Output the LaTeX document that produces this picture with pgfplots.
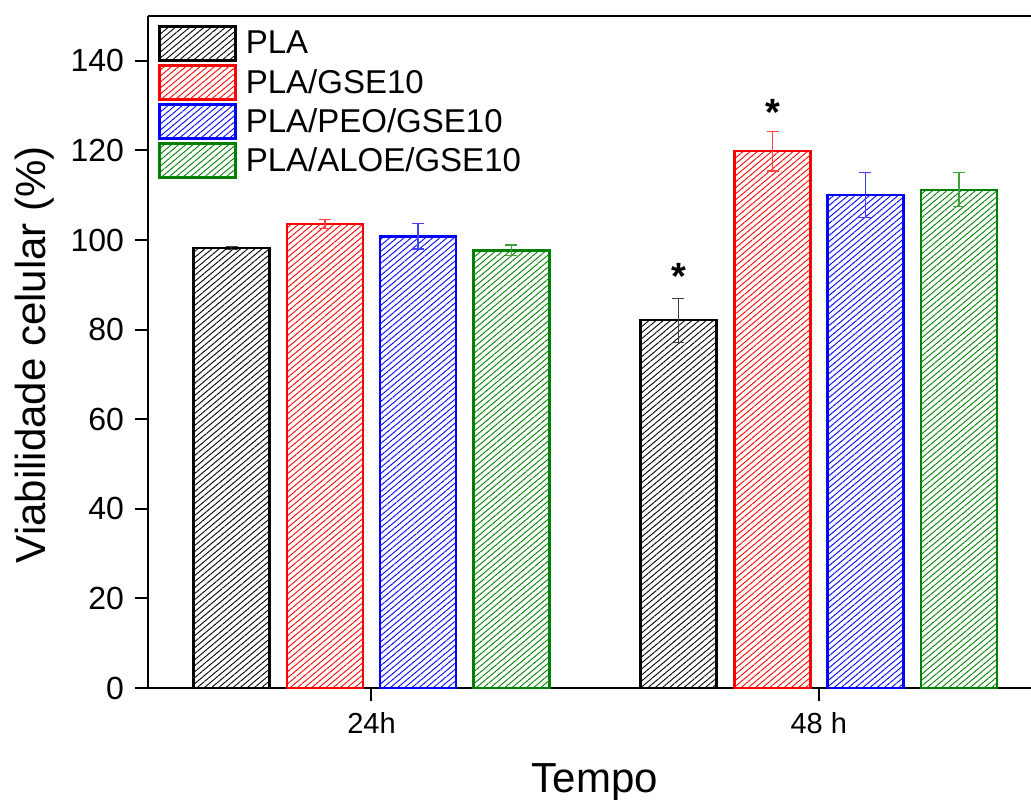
\documentclass[border=0pt]{standalone}
\usepackage{fontspec}
\setmainfont{Liberation Sans}
\usepackage{pgfplots}
\usepackage{pgfplotstable}
\pgfplotsset{compat=1.18}
\usetikzlibrary{patterns.meta}

\definecolor{cgreen}{RGB}{0,128,0}

% Cell viability (%), mean and standard deviation, at 24 h (x = 0) and 48 h (x = 1)
\pgfplotstableread{
x       y      e
-0.3130 98.2   0.4
 0.6864 82.1   4.9
}\pla
\pgfplotstableread{
x       y      e
-0.1040 103.6  1.0
 0.8966 119.8  4.4
}\gse
\pgfplotstableread{
x       y      e
 0.1040 100.8  2.8
 1.1045 110.0  5.0
}\peo
\pgfplotstableread{
x       y      e
 0.3130 97.7   1.2
 1.3136 111.2  3.8
}\aloe

\pgfplotsset{
  hbar/.style={
    ybar, bar shift=0pt, bar width=38pt,
    draw=#1, line width=1.2pt,
    pattern={Lines[angle=40,distance=2.3pt,line width=0.45pt]},
    pattern color=#1,
    error bars/.cd, y dir=both, y explicit,
      error bar style={line width=0.6pt, #1!75},
      error mark options={rotate=90, mark size=3pt, line width=0.6pt, #1!75},
    /pgfplots/.cd,
    legend image code/.code={%
      \draw[draw=#1, line width=1.2pt,
            pattern={Lines[angle=40,distance=2.3pt,line width=0.45pt]},
            pattern color=#1]
        (0pt,-8.5pt) rectangle (38pt,8.5pt);},
  },
}

\begin{document}
\begin{tikzpicture}
\begin{axis}[
  scale only axis, width=441.5pt, height=336pt,
  xmin=-0.4997, xmax=1.4746, ymin=0, ymax=150,
  clip=false,
  axis x line*=bottom, axis y line*=left,
  axis line style={line width=1pt, -},
  xtick={0,1}, xticklabels={24h,48 h},
  ytick={0,20,...,140},
  tick align=outside, major tick length=6.5pt,
  tick style={line width=1pt, black},
  /pgf/number format/assume math mode=true,
  yticklabel style={font=\fontsize{16}{19}\selectfont, xshift=-2pt},
  xticklabel style={font=\fontsize{14.5}{17}\selectfont, yshift=-2pt},
  xlabel={Tempo},
  ylabel={Viabilidade celular (\%)},
  xlabel style={font=\fontsize{21}{24}\selectfont,
    at={(rel axis cs:0.5062,-0.1548)}, anchor=base},
  ylabel style={font=\fontsize{21}{24}\selectfont,
    at={(rel axis cs:-0.1166,0.496)}, anchor=base, rotate=0},
  legend style={draw=none, fill=none,
    at={(rel axis cs:0,1)}, anchor=north west,
    xshift=5pt, yshift=-4.5pt, inner sep=0pt,
    font=\fontsize{16.5}{19}\selectfont,
    row sep=1.3pt,
    nodes={inner sep=0pt},
    /tikz/every odd column/.append style={column sep=4.5pt}},
  legend cell align=left,
]
\addplot[hbar=black] table[x=x, y=y, y error=e] {\pla};
\addlegendentry{PLA}
\addplot[hbar=red] table[x=x, y=y, y error=e] {\gse};
\addlegendentry{PLA/GSE10}
\addplot[hbar=blue] table[x=x, y=y, y error=e] {\peo};
\addlegendentry{PLA/PEO/GSE10}
\addplot[hbar=cgreen] table[x=x, y=y, y error=e] {\aloe};
\addlegendentry{PLA/ALOE/GSE10}

% significance marks
\node[font=\fontsize{19}{21}\selectfont\bfseries, inner sep=0pt] at (axis cs:0.6864,91.8) {*};
\node[font=\fontsize{19}{21}\selectfont\bfseries, inner sep=0pt] at (axis cs:0.8966,128.4) {*};

% upper frame line
\draw[line width=1pt] (rel axis cs:0,1) -- (rel axis cs:1,1);
\coordinate (bl) at (rel axis cs:0,0);
\end{axis}
\pgfresetboundingbox
\path ([shift={(-74pt,-55.5pt)}]bl) rectangle ([shift={(441.5pt,344pt)}]bl);
\end{tikzpicture}
\end{document}
